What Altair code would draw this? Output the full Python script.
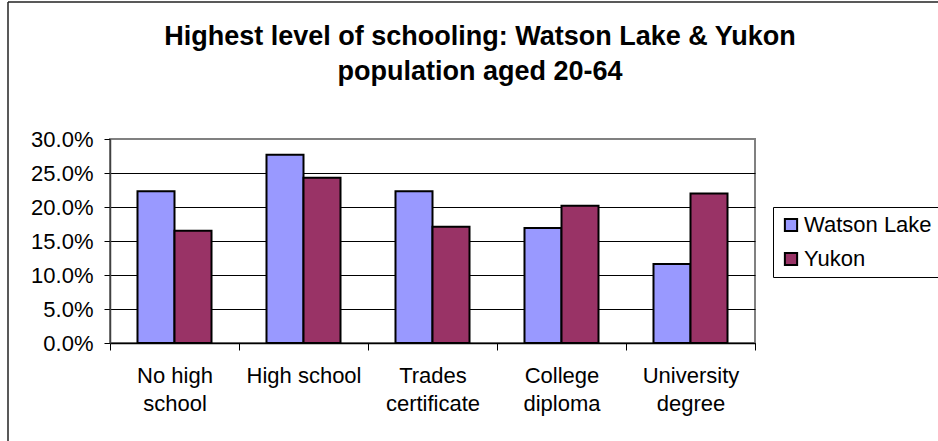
import altair as alt
import pandas as pd

categories = ["No high school", "High school", "Trades certificate", "College diploma", "University degree"]
label_lines = [["No high", "school"], ["High school"], ["Trades", "certificate"], ["College", "diploma"], ["University", "degree"]]
series = ["Watson Lake", "Yukon"]
watson_lake = [0.223, 0.277, 0.223, 0.169, 0.116]
yukon = [0.165, 0.243, 0.171, 0.202, 0.220]
y_ticks = [0.0, 0.05, 0.10, 0.15, 0.20, 0.25, 0.30]
colors = ["#9999FF", "#993366"]
title_lines = ["Highest level of schooling: Watson Lake & Yukon", "population aged 20-64"]

FONT = "Liberation Sans"

rows = []
for i, c in enumerate(categories):
    rows.append({"category": c, "series": series[0], "value": watson_lake[i]})
    rows.append({"category": c, "series": series[1], "value": yukon[i]})
df = pd.DataFrame(rows)

label_map = "{" + ", ".join(f"'{c}': {lines!r}" for c, lines in zip(categories, label_lines)) + "}"

bars = alt.Chart(df).mark_bar(stroke="black", strokeWidth=2).encode(
    x=alt.X(
        "category:N", sort=categories,
        scale=alt.Scale(paddingInner=0, paddingOuter=0),
        axis=alt.Axis(
            title=None, labelAngle=0, tickBand="extent",
            labelExpr=f"{label_map}[datum.label]",
            labelFontSize=22, labelLineHeight=28, labelPadding=15, labelFont=FONT,
            labelColor="black", tickSize=7, tickColor="black", domainColor="black",
            tickWidth=1, domainWidth=1.5, grid=False,
        ),
    ),
    xOffset=alt.XOffset("series:N", sort=series, scale=alt.Scale(paddingOuter=0.743, paddingInner=0)),
    y=alt.Y(
        "value:Q",
        scale=alt.Scale(domain=[0, 0.3], nice=False),
        axis=alt.Axis(
            title=None, format=".1%", values=y_ticks, grid=True,
            gridColor={"condition": {"test": "datum.value > 0.29", "value": "#808080"}, "value": "black"},
            gridWidth=1, gridOpacity=1,
            labelFontSize=22, labelFont=FONT, labelColor="black", labelPadding=11,
            tickSize=6, tickColor="black", domainColor="#404040", tickWidth=1, domainWidth=1.5,
        ),
    ),
    color=alt.Color(
        "series:N",
        scale=alt.Scale(domain=series, range=colors),
        legend=alt.Legend(
            title=None, orient="none", legendX=663, legendY=68,
            strokeColor="black", fillColor="white", padding=7,
            labelFontSize=22, labelFont=FONT, labelColor="black",
            symbolType="square", symbolSize=150, symbolStrokeColor="black",
            symbolStrokeWidth=2, symbolOpacity=1, rowPadding=12, labelOffset=2,
        ),
    ),
)

one = pd.DataFrame({"k": [0]})
left_line = alt.Chart(one).mark_rule(color="#222222", strokeWidth=1.5).encode(
    x=alt.value(-102), y=alt.value(-137), y2=alt.value(320)
)
top_line = alt.Chart(one).mark_rule(color="#222222", strokeWidth=1.5).encode(
    x=alt.value(-102), x2=alt.value(840), y=alt.value(-137)
)
title_text = alt.Chart(one).mark_text(
    text=title_lines, font=FONT, fontSize=27, fontWeight="bold", color="black",
    lineHeight=35, align="center", baseline="alphabetic",
).encode(x=alt.value(370), y=alt.value(-94))

chart = alt.layer(bars, left_line, top_line, title_text).properties(
    width=645, height=204,
    autosize=alt.AutoSizeParams(type="none"),
    padding={"left": 110, "top": 139, "right": 183, "bottom": 98},
).configure_view(stroke="#808080", strokeWidth=2)

chart.save("out.html", embed_options={"renderer": "svg", "actions": False})
